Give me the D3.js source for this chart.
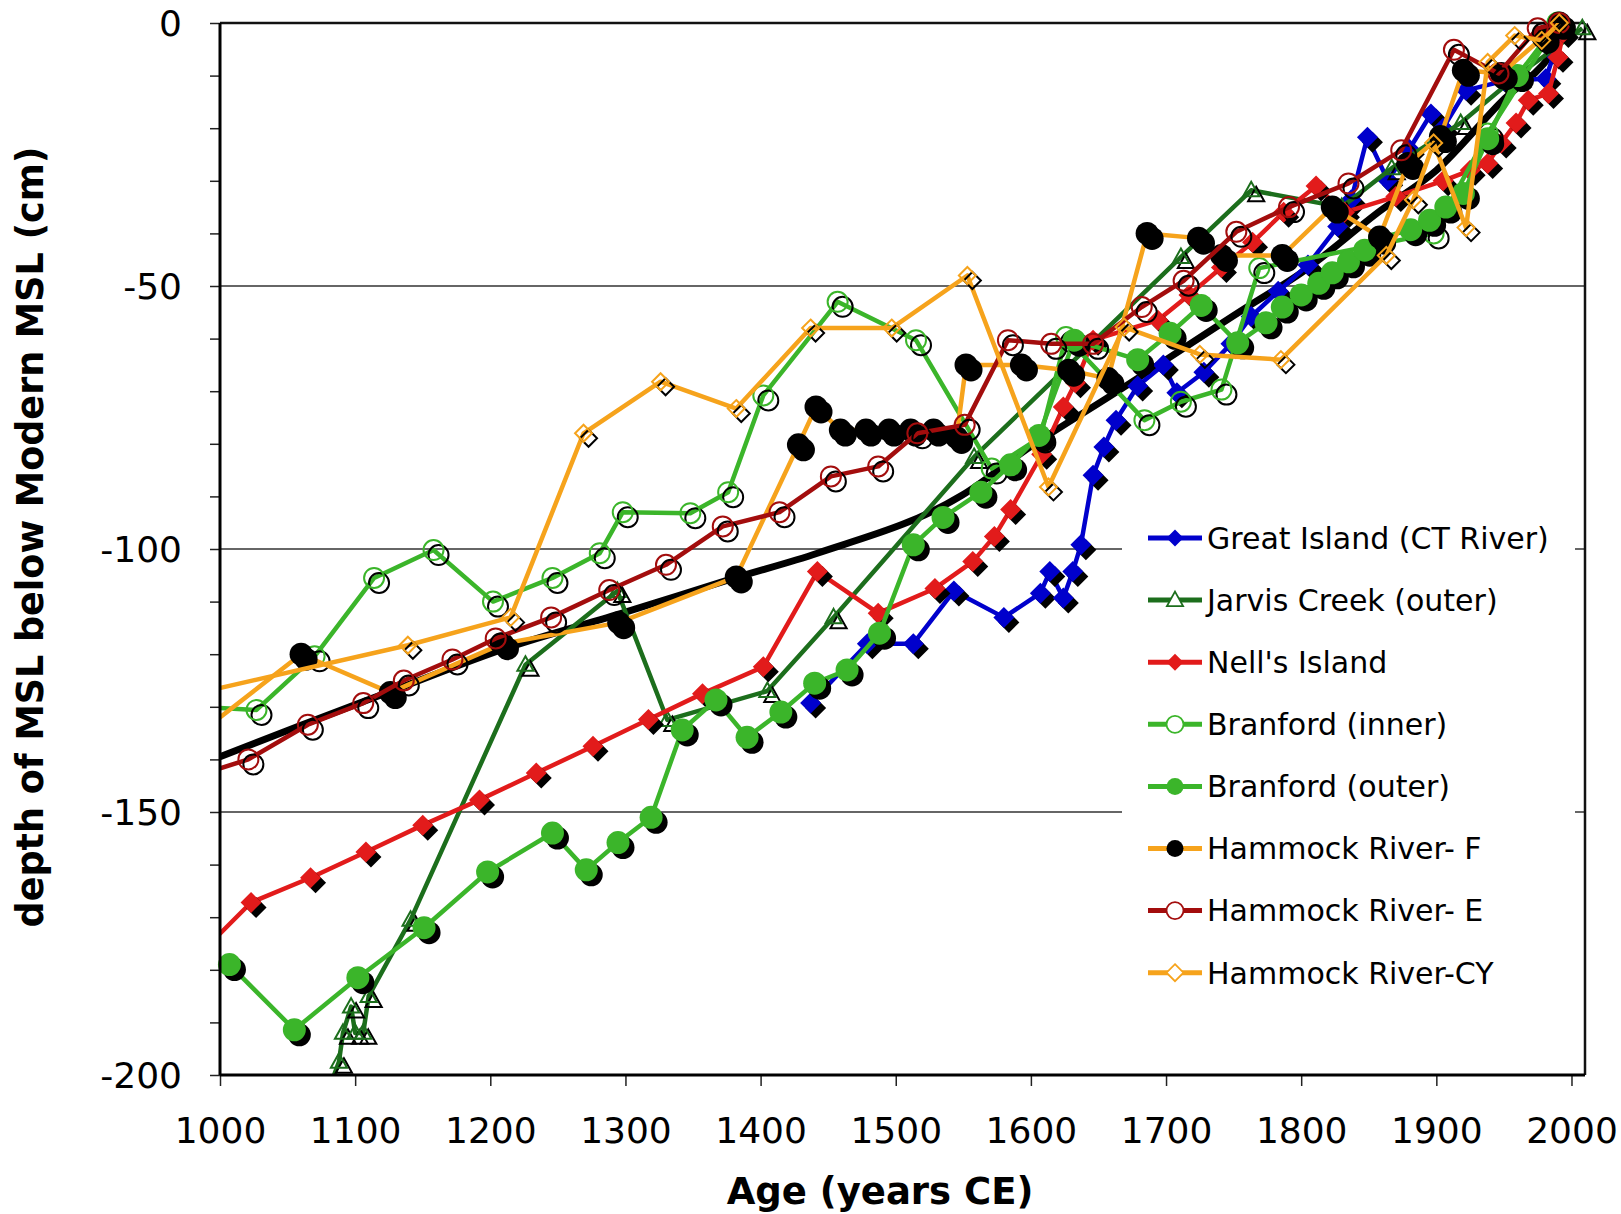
<!DOCTYPE html>
<html>
<head>
<meta charset="utf-8">
<script src="https://cdn.jsdelivr.net/npm/d3@7"></script>
<style>
  body { margin: 0; background: #fff; }
  text { font-family: "DejaVu Sans", Verdana, sans-serif; fill: #000; }
</style>
</head>
<body>
<div id="chart"></div>
<script>
// series values: [year CE, depth cm]
var greatIsland = [[1437,-129.3],[1479,-118],[1513,-118],[1543,-108],[1580,-113],[1607,-108.4],[1614,-104.3],[1624,-109.3],[1631,-104.3],[1637,-99.2],[1646,-86],[1654,-80.6],[1663,-75.5],[1679,-69],[1698,-65],[1708,-70.3],[1728,-66.4],[1748,-61],[1763,-55.8],[1783,-51],[1805,-46],[1827,-38.7],[1837,-33.6],[1849,-21.7],[1864,-29.9],[1880,-24],[1896,-17.3],[1905,-20],[1922,-12.8],[1950,-11],[1981,-10.6],[1987,-5.9],[1994,-0.8]];
var jarvisCreek = [[1083,-201],[1088,-197.5],[1091,-192],[1097,-187],[1100,-192],[1106,-192],[1110,-185],[1141,-170.5],[1226,-122],[1294,-108],[1331,-132.5],[1405,-127],[1454,-113],[1558,-82.5],[1711,-44.5],[1763,-31.8],[1830,-35],[1867,-27.6],[1918,-19],[1960,-10],[2008,-1]];
var nellsIsland = [[985,-177],[1023,-167.2],[1067,-162.5],[1108,-157.6],[1150,-152.5],[1192,-147.7],[1234,-142.6],[1276,-137.5],[1317,-132.4],[1357,-127.5],[1402,-122.4],[1442,-104.3],[1487,-112.2],[1529,-107.5],[1557,-102.4],[1573,-97.6],[1585,-92.5],[1608,-82],[1624,-73],[1633,-68.4],[1646,-60.3],[1694,-56.5],[1717,-51.7],[1741,-46.5],[1764,-41.7],[1787,-36],[1811,-31],[1832,-36],[1870,-33],[1905,-30],[1925,-28],[1938,-26.7],[1948,-22.8],[1959,-19],[1968,-14.7],[1983,-13.4],[1990,-6.5],[1994,-1.8]];
var branfordInner = [[985,-130],[1027,-130.6],[1070,-120.4],[1114,-105.5],[1158,-100.2],[1202,-110],[1246,-105.5],[1281,-100.8],[1298,-93],[1348,-93.2],[1376,-89.2],[1402,-70.8],[1457,-53],[1515,-60.3],[1571,-84.7],[1607,-78.8],[1626,-59.7],[1684,-75.5],[1711,-72],[1741,-69.7],[1769,-46.6],[1898,-40],[1938,-21],[1990,0]];
var branfordOuter = [[1007,-179],[1055,-191.4],[1102,-181.5],[1151,-172],[1198,-161.4],[1246,-154],[1271,-161],[1294.5,-155.8],[1319,-151],[1342,-134.4],[1367,-128.7],[1390,-135.8],[1415,-131],[1440,-125.5],[1464,-123],[1488,-116],[1513,-99.2],[1535,-94],[1563,-89.2],[1585,-84],[1606,-78.4],[1632,-60.3],[1679,-64],[1703,-59],[1726,-53.7],[1753,-60.8],[1774,-57],[1786,-54],[1800,-51.7],[1813,-49.5],[1823,-47.5],[1835,-45.4],[1847,-43.2],[1858,-40.9],[1881,-39.3],[1895,-37.5],[1907,-35],[1920,-32.4],[1938,-22],[1960,-10],[1990,0]];
var hammockF = [[985,-135],[1060,-120],[1126,-127.3],[1209,-118],[1295,-114],[1382,-105.3],[1428,-80.2],[1441,-73],[1459,-77.4],[1478,-77.4],[1495,-77.4],[1511,-77.4],[1528,-77.4],[1545,-78.8],[1552,-65],[1593,-65],[1628,-66],[1657,-67.6],[1686,-40],[1724,-40.9],[1741,-44.2],[1786,-44.2],[1823,-35],[1858,-40.7],[1879,-26.7],[1903,-21.6],[1920,-9],[1948,-9.6],[1979,-2.7],[1991,0]];
var hammockE = [[990,-142.5],[1021,-140],[1065,-133.4],[1106,-129.3],[1136,-125],[1172,-121],[1204,-117],[1245,-113],[1288,-107.8],[1330,-103],[1372,-95.7],[1414,-93],[1452,-86.2],[1487,-84.3],[1516,-78],[1551,-76.4],[1583,-60.3],[1615,-61],[1646,-61],[1682,-54],[1713,-49],[1752,-39.7],[1791,-35],[1835,-30.5],[1874,-24.2],[1913,-5.1],[1946,-9.6],[1975,-1],[1991,0]];
var hammockCY = [[985,-127.3],[1139,-118.3],[1215,-113],[1269,-78],[1326,-68.2],[1382,-73.3],[1437,-58],[1497,-58],[1553,-48],[1613,-88.2],[1669,-57.8],[1725,-63],[1785,-64],[1863,-44.2],[1883,-33.6],[1898,-22.8],[1922,-38.9],[1938,-7.5],[1958,-2.4],[1978,-3.3],[1991,0]];
var trendLine = [[1000,-139.5],[1060,-133.5],[1127,-127],[1210,-119],[1300,-112],[1381,-105.5],[1442,-100.8],[1549,-89.8],[1600,-80.5],[1660,-70.7],[1760,-54],[1800,-47.5],[1859,-35.6],[1900,-28],[1948,-15],[1985,-6],[2000,0]];

var seriesNames = ["Great Island (CT River)", "Jarvis Creek (outer)", "Nell's Island", "Branford (inner)",
  "Branford (outer)", "Hammock River- F", "Hammock River- E", "Hammock River-CY"];
var xTicks = [1000, 1100, 1200, 1300, 1400, 1500, 1600, 1700, 1800, 1900, 2000];
var yTicks = [0, -50, -100, -150, -200];

var svgWidth = 1621;
var svgHeight = 1214;
var margin = { top: 23, right: 36, bottom: 139, left: 220 };
var width = svgWidth - margin.left - margin.right;
var height = svgHeight - margin.top - margin.bottom;

// line colour, marker shape, marker fill
var series = [
  { name: seriesNames[0], data: greatIsland,  line: "#0000cc", shape: "diamond",  mark: "#0000cc", filled: true },
  { name: seriesNames[1], data: jarvisCreek,  line: "#1c6e1c", shape: "triangle", mark: "#1c6e1c", filled: false },
  { name: seriesNames[2], data: nellsIsland,  line: "#e21b1b", shape: "diamond",  mark: "#e21b1b", filled: true },
  { name: seriesNames[3], data: branfordInner, line: "#3bb52a", shape: "circle",  mark: "#3bb52a", filled: false },
  { name: seriesNames[4], data: branfordOuter, line: "#3bb52a", shape: "circle",  mark: "#3bb52a", filled: true },
  { name: seriesNames[5], data: hammockF,     line: "#f6a31c", shape: "circle",   mark: "#000000", filled: true },
  { name: seriesNames[6], data: hammockE,     line: "#a30d0d", shape: "circle",   mark: "#a30d0d", filled: false },
  { name: seriesNames[7], data: hammockCY,    line: "#f6a31c", shape: "odiamond", mark: "#f6a31c", filled: false }
];

var svg = d3.select("#chart")
  .append("svg")
  .attr("width", svgWidth)
  .attr("height", svgHeight);

var chart = svg.append("g")
  .attr("transform", `translate(${margin.left}, ${margin.top})`);

var xScale = d3.scaleLinear().domain([1000, 2010]).range([0, width]);
var yScale = d3.scaleLinear().domain([-200, 0]).range([height, 0]);

svg.append("defs").append("clipPath").attr("id", "plotClip")
  .append("rect").attr("x", 0).attr("y", 0).attr("width", width).attr("height", height);

// gridlines
chart.append("g").selectAll("line")
  .data([-50, -100, -150])
  .enter().append("line")
  .attr("x1", 0).attr("x2", width)
  .attr("y1", d => yScale(d)).attr("y2", d => yScale(d))
  .attr("stroke", "#333").attr("stroke-width", 1.5);

// axes
var leftAxis = d3.axisLeft(yScale)
  .tickValues(d3.range(-200, 1, 10))
  .tickSize(10).tickPadding(28)
  .tickFormat(d => yTicks.indexOf(d) >= 0 ? String(d) : "");
var bottomAxis = d3.axisBottom(xScale)
  .tickValues(xTicks).tickSize(11).tickPadding(31)
  .tickFormat(d => String(d));

var yAxisG = chart.append("g").call(leftAxis);
var xAxisG = chart.append("g").attr("transform", `translate(0, ${height})`).call(bottomAxis);
[yAxisG, xAxisG].forEach(function(g) {
  g.select(".domain").remove();
  g.selectAll(".tick line").attr("stroke", "#222").attr("stroke-width", 1.5);
  g.selectAll(".tick text").attr("font-size", 36).attr("font-family", "DejaVu Sans, Verdana, sans-serif");
});
yAxisG.selectAll(".tick text").attr("dy", "0.36em");

// frame
chart.append("line").attr("x1", 0).attr("x2", width).attr("y1", 0).attr("y2", 0).attr("stroke", "#111").attr("stroke-width", 2.5);
chart.append("line").attr("x1", width).attr("x2", width).attr("y1", 0).attr("y2", height).attr("stroke", "#111").attr("stroke-width", 2.5);

// marker paths
function markerPath(shape, s) {
  if (shape === "diamond" || shape === "odiamond") return `M0,${-s}L${s},0L0,${s}L${-s},0Z`;
  if (shape === "triangle") return `M0,${-s}L${s * 0.95},${s * 0.7}L${-s * 0.95},${s * 0.7}Z`;
  return d3.arc()({ innerRadius: 0, outerRadius: s, startAngle: 0, endAngle: 2 * Math.PI });
}
var markerSize = { diamond: 10.5, odiamond: 8.5, triangle: 8.5, circle: 11.5 };

var line = d3.line().x(d => xScale(d[0])).y(d => yScale(d[1]));

// black trend curve
chart.append("path")
  .datum(trendLine)
  .attr("clip-path", "url(#plotClip)")
  .attr("fill", "none")
  .attr("stroke", "#000")
  .attr("stroke-width", 7)
  .attr("stroke-linejoin", "round")
  .attr("d", line.curve(d3.curveMonotoneX));
line.curve(d3.curveLinear);

series.forEach(function(s) {
  var g = chart.append("g");
  g.append("path")
    .datum(s.data)
    .attr("clip-path", "url(#plotClip)")
    .attr("fill", "none")
    .attr("stroke", s.line)
    .attr("stroke-width", 4.5)
    .attr("stroke-linejoin", "round")
    .attr("d", line);

  var pts = s.data.filter(d => d[0] >= 1000 && d[1] >= -200);
  var size = s.shape === "circle" && !s.filled ? 10 : markerSize[s.shape];

  // drop shadow
  g.selectAll(".shadow").data(pts).enter().append("path")
    .attr("transform", d => `translate(${xScale(d[0]) + 5}, ${yScale(d[1]) + 5})`)
    .attr("d", markerPath(s.shape, size))
    .attr("fill", s.filled ? "#000" : "none")
    .attr("stroke", "#000")
    .attr("stroke-width", s.filled ? 0 : 2);

  g.selectAll(".mark").data(pts).enter().append("path")
    .attr("transform", d => `translate(${xScale(d[0])}, ${yScale(d[1])})`)
    .attr("d", markerPath(s.shape, size))
    .attr("fill", s.filled ? s.mark : "none")
    .attr("stroke", s.mark)
    .attr("stroke-width", s.filled ? 0 : 2);
});

// legend
var legendG = svg.append("g");
legendG.append("rect")
  .attr("x", 1122).attr("y", 505).attr("width", 453).attr("height", 500)
  .attr("fill", "#fff");
var legendItems = legendG.selectAll(".item").data(series).enter().append("g")
  .attr("transform", (d, i) => `translate(1148, ${538 + i * 62.1})`);
legendItems.append("line")
  .attr("x1", 0).attr("x2", 54).attr("y1", 0).attr("y2", 0)
  .attr("stroke", d => d.line).attr("stroke-width", 5);
legendItems.append("path")
  .attr("transform", "translate(27, 0)")
  .attr("d", d => markerPath(d.shape, 8.5))
  .attr("fill", d => d.filled ? d.mark : "#fff")
  .attr("stroke", d => d.mark)
  .attr("stroke-width", d => d.filled ? 0 : 1.8);
legendItems.append("text")
  .attr("x", 59).attr("y", 0).attr("dy", "0.36em")
  .attr("font-size", 30)
  .text(d => d.name);

// axis titles
svg.append("text")
  .attr("transform", "translate(43, 537) rotate(-90)")
  .attr("text-anchor", "middle")
  .attr("font-size", 36.5).attr("font-weight", "bold")
  .text("depth of MSL below Modern MSL (cm)");
svg.append("text")
  .attr("x", 880).attr("y", 1204)
  .attr("text-anchor", "middle")
  .attr("font-size", 37).attr("font-weight", "bold")
  .text("Age (years CE)");

// left and bottom axis lines on top
chart.append("line").attr("x1", 0).attr("x2", 0).attr("y1", 0).attr("y2", height).attr("stroke", "#000").attr("stroke-width", 3);
chart.append("line").attr("x1", 0).attr("x2", width).attr("y1", height).attr("y2", height).attr("stroke", "#000").attr("stroke-width", 3);
</script>
</body>
</html>
